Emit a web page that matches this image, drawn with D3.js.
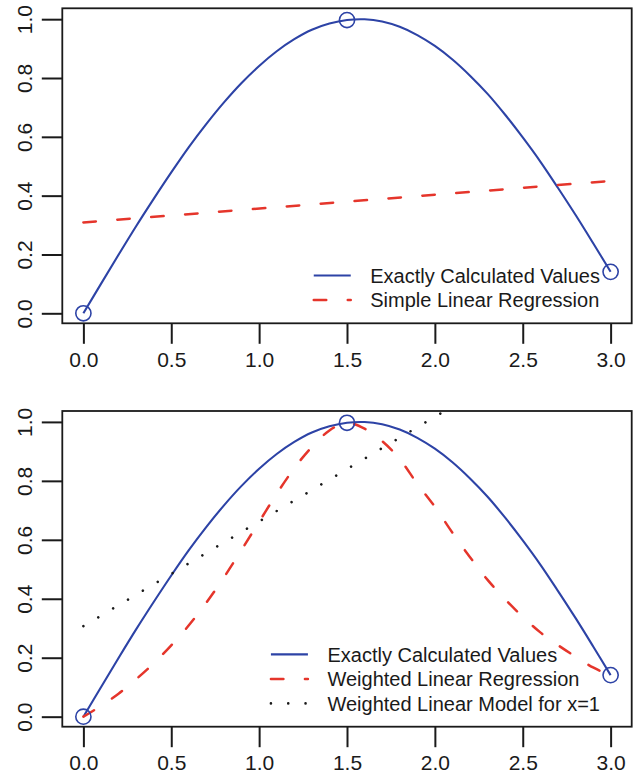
<!DOCTYPE html>
<html>
<head>
<meta charset="utf-8">
<script src="https://cdn.jsdelivr.net/npm/d3@7"></script>
<style>
  html, body { margin: 0; padding: 0; background: #fff; }
  svg { display: block; font-family: "Liberation Sans", Arial, Helvetica, sans-serif; }
</style>
</head>
<body>
<svg id="chart" width="634" height="777"></svg>
<script>
// Sample grid along x
const xGrid = [0.0, 0.1, 0.2, 0.3, 0.4, 0.5, 0.6, 0.7, 0.8, 0.9, 1.0,
               1.1, 1.2, 1.3, 1.4, 1.5, 1.6, 1.7, 1.8, 1.9, 2.0,
               2.1, 2.2, 2.3, 2.4, 2.5, 2.6, 2.7, 2.8, 2.9, 3.0];

// Exactly calculated values along the grid
const exactValues = [0.000, 0.100, 0.199, 0.296, 0.389, 0.479, 0.565, 0.644, 0.717, 0.783, 0.841,
                     0.891, 0.932, 0.964, 0.985, 0.997, 0.9996, 0.992, 0.974, 0.946, 0.909,
                     0.863, 0.808, 0.746, 0.675, 0.598, 0.516, 0.427, 0.335, 0.239, 0.141];

// Weighted linear regression along the grid
const weightedValues = [0.000, 0.037, 0.078, 0.127, 0.181, 0.242, 0.310, 0.387, 0.473, 0.566, 0.661,
                        0.756, 0.843, 0.915, 0.971, 0.997, 0.977, 0.935, 0.874, 0.790, 0.712,
                        0.624, 0.541, 0.464, 0.398, 0.339, 0.286, 0.243, 0.204, 0.167, 0.140];

// Observed support points
const pointX = [0.0, 1.5, 3.0];
const pointY = [0.000, 0.997, 0.141];

// Simple linear regression (end points)
const simpleX = [0.0, 3.0];
const simpleY = [0.309, 0.450];

// Weighted linear model for x=1 (end points, clipped at the frame)
const localX = [0.0, 2.1];
const localY = [0.307, 1.053];

// Axis ticks
const xTicks = [0.0, 0.5, 1.0, 1.5, 2.0, 2.5, 3.0];
const yTicks = [0.0, 0.2, 0.4, 0.6, 0.8, 1.0];

// Legend labels
const legendTop = ["Exactly Calculated Values", "Simple Linear Regression"];
const legendBottom = ["Exactly Calculated Values", "Weighted Linear Regression", "Weighted Linear Model for x=1"];

const BLUE = "#2d43a6";
const RED = "#e5352b";
const INK = "#1a1a1a";
const FONT = 20;
const TICK_FONT = 21;

const svg = d3.select("#chart");

const x = d3.scaleLinear().domain([-0.12, 3.12]).range([62.3, 631.7]);

const styles = {
  exact:    { stroke: BLUE, width: 2.1, dash: null, cap: "butt" },
  simple:   { stroke: RED, width: 2.5, dash: "12.5,21.5", cap: "round" },
  weighted: { stroke: RED, width: 2.5, dash: "12.5,21.5", cap: "round" },
  local:    { stroke: INK, width: 2.6, dash: "0.01,17.3", cap: "round" }
};

function applyStyle(sel, s) {
  sel.attr("fill", "none")
     .attr("stroke", s.stroke)
     .attr("stroke-width", s.width)
     .attr("stroke-linecap", s.cap)
     .attr("stroke-dasharray", s.dash);
}

function drawPanel(id, top, bottom, series, legendLabels, legendStyles) {
  const y = d3.scaleLinear().domain([-0.034, 1.037]).range([bottom, top]);
  const g = svg.append("g");

  g.append("clipPath").attr("id", id)
    .append("rect")
    .attr("x", x.range()[0]).attr("y", top)
    .attr("width", x.range()[1] - x.range()[0]).attr("height", bottom - top);

  const plot = g.append("g").attr("clip-path", `url(#${id})`);
  const line = d3.line().x(d => x(d[0])).y(d => y(d[1]));

  series.forEach(s => {
    const pts = s.xs.map((v, i) => [v, s.ys[i]]);
    plot.append("path")
      .attr("d", line.curve(s.curve || d3.curveLinear)(pts))
      .call(applyStyle, styles[s.style]);
  });

  // support points
  plot.selectAll("circle.pt").data(pointX.map((v, i) => [v, pointY[i]]))
    .join("circle").attr("class", "pt")
    .attr("cx", d => x(d[0])).attr("cy", d => y(d[1])).attr("r", 7.6)
    .attr("fill", "none").attr("stroke", BLUE).attr("stroke-width", 1.6);

  // frame
  g.append("rect")
    .attr("x", x.range()[0]).attr("y", top)
    .attr("width", x.range()[1] - x.range()[0]).attr("height", bottom - top)
    .attr("fill", "none").attr("stroke", INK).attr("stroke-width", 1.8);

  // x axis
  const xa = g.append("g").attr("transform", `translate(0,${bottom})`)
    .call(d3.axisBottom(x).tickValues(xTicks).tickSize(20.5).tickPadding(4)
      .tickFormat(d3.format(".1f")));
  xa.select(".domain").remove();
  xa.selectAll(".tick line").attr("stroke", INK).attr("stroke-width", 2);
  xa.selectAll(".tick text").attr("fill", INK).attr("font-size", TICK_FONT)
    .attr("font-family", "Liberation Sans, Arial, sans-serif").attr("dy", "0.9em");

  // y axis
  const ya = g.append("g").attr("transform", `translate(${x.range()[0]},0)`)
    .call(d3.axisLeft(y).tickValues(yTicks).tickSize(20.5).tickFormat(d3.format(".1f")));
  ya.select(".domain").remove();
  ya.selectAll(".tick line").attr("stroke", INK).attr("stroke-width", 2);
  ya.selectAll(".tick text")
    .attr("x", null).attr("dy", null)
    .attr("fill", INK).attr("font-size", TICK_FONT)
    .attr("font-family", "Liberation Sans, Arial, sans-serif")
    .attr("text-anchor", "middle")
    .attr("transform", "translate(-30.5,0) rotate(-90)");

  // legend (bottom right, no frame)
  const lg = g.append("g");
  const n = legendLabels.length;
  const rowY = i => bottom - 23.3 - 24.5 * (n - 1 - i);
  const texts = lg.selectAll("text").data(legendLabels).join("text")
    .attr("y", (d, i) => rowY(i)).attr("dy", "0.37em")
    .attr("font-size", FONT).attr("fill", INK)
    .text(d => d);
  const maxW = d3.max(texts.nodes(), t => t.getComputedTextLength());
  const textX = x.range()[1] - 31.7 - maxW;
  texts.attr("x", textX);
  legendStyles.forEach((st, i) => {
    lg.append("line")
      .attr("x1", textX - 56.5).attr("x2", textX - 19.5)
      .attr("y1", rowY(i)).attr("y2", rowY(i))
      .call(applyStyle, styles[st]);
  });
}

drawPanel("clipTop", 8.3, 323.3, [
  { xs: xGrid, ys: exactValues, style: "exact", curve: d3.curveCatmullRom },
  { xs: simpleX, ys: simpleY, style: "simple" }
], legendTop, ["exact", "simple"]);

drawPanel("clipBottom", 411, 726.7, [
  { xs: xGrid, ys: exactValues, style: "exact", curve: d3.curveCatmullRom },
  { xs: xGrid, ys: weightedValues, style: "weighted", curve: d3.curveMonotoneX },
  { xs: localX, ys: localY, style: "local" }
], legendBottom, ["exact", "weighted", "local"]);
</script>
</body>
</html>
